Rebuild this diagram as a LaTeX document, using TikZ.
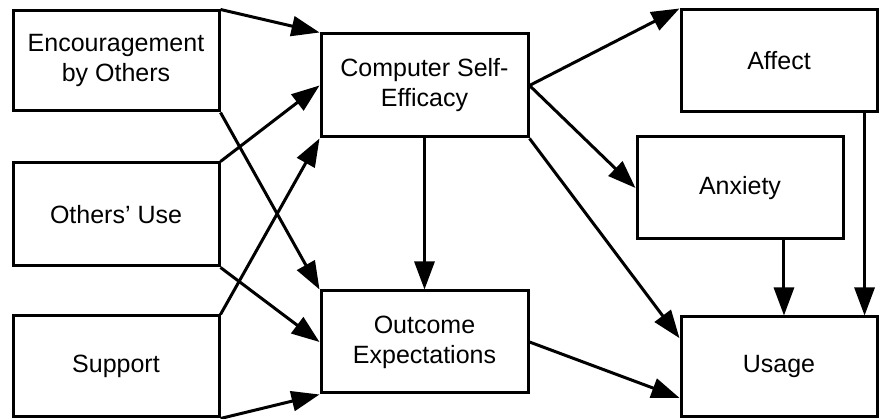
\documentclass[tikz,border=0pt]{standalone}
\usepackage{fontspec}
\setmainfont{Liberation Sans}
\usetikzlibrary{arrows.meta,calc}
\begin{document}
\begin{tikzpicture}[x=1pt,y=1pt,
  box/.style={draw, line width=3pt, inner sep=0pt, align=center,
    font=\fontsize{25}{30}\selectfont},
  arr/.style={line width=3pt, -{Triangle[length=28pt,width=20pt]}},
]
\useasboundingbox (0,0) rectangle (879,419);

% sources
\node[box, minimum width=206pt, minimum height=100pt] (enc) at (116,358) {Encouragement\\by Others};
\node[box, minimum width=206pt, minimum height=103pt] (ou)  at (116,204.5) {Others’ Use};
\node[box, minimum width=206pt, minimum height=101pt] (sup) at (116,52.5) {Support};

% mediators
\node[box, minimum width=207pt, minimum height=103pt] (cse) at (424.5,333.5) {Computer Self-\\Efficacy};
\node[box, minimum width=207pt, minimum height=102pt] (oe)  at (424.5,77) {Outcome\\Expectations};

% outcomes
\node[box, minimum width=196pt, minimum height=102pt] (aff) at (779,358) {Affect};
\node[box, minimum width=206pt, minimum height=102pt] (anx) at (740,231) {Anxiety};
\node[box, minimum width=196pt, minimum height=100pt] (use) at (779,52) {Usage};

% entry points on Usage
\coordinate (uw1) at ($(use.north west)!0.22!(use.south west)$);
\coordinate (uw2) at ($(use.north west)!0.80!(use.south west)$);
\coordinate (ut1) at ($(use.north west)!0.525!(use.north east)$);
\coordinate (ut2) at ($(use.north west)!0.93!(use.north east)$);

% influences on self-efficacy and outcome expectations
\draw[arr] (enc.north east) -- (cse.north west);
\draw[arr] (enc.south east) -- (oe.north west);
\draw[arr] (ou.north east) -- (cse.west);
\draw[arr] (ou.south east) -- (oe.west);
\draw[arr] (sup.north east) -- (cse.south west);
\draw[arr] (sup.south east) -- (oe.south west);
\draw[arr] (cse.south) -- (oe.north);

% influences on affect, anxiety and usage
\draw[arr] (cse.east) -- (aff.north west);
\draw[arr] (cse.east) -- (anx.west);
\draw[arr] (cse.south east) -- (uw1);
\draw[arr] (oe.east) -- (uw2);
\draw[arr] (anx.south -| ut1) -- (ut1);
\draw[arr] (aff.south -| ut2) -- (ut2);
\end{tikzpicture}
\end{document}
